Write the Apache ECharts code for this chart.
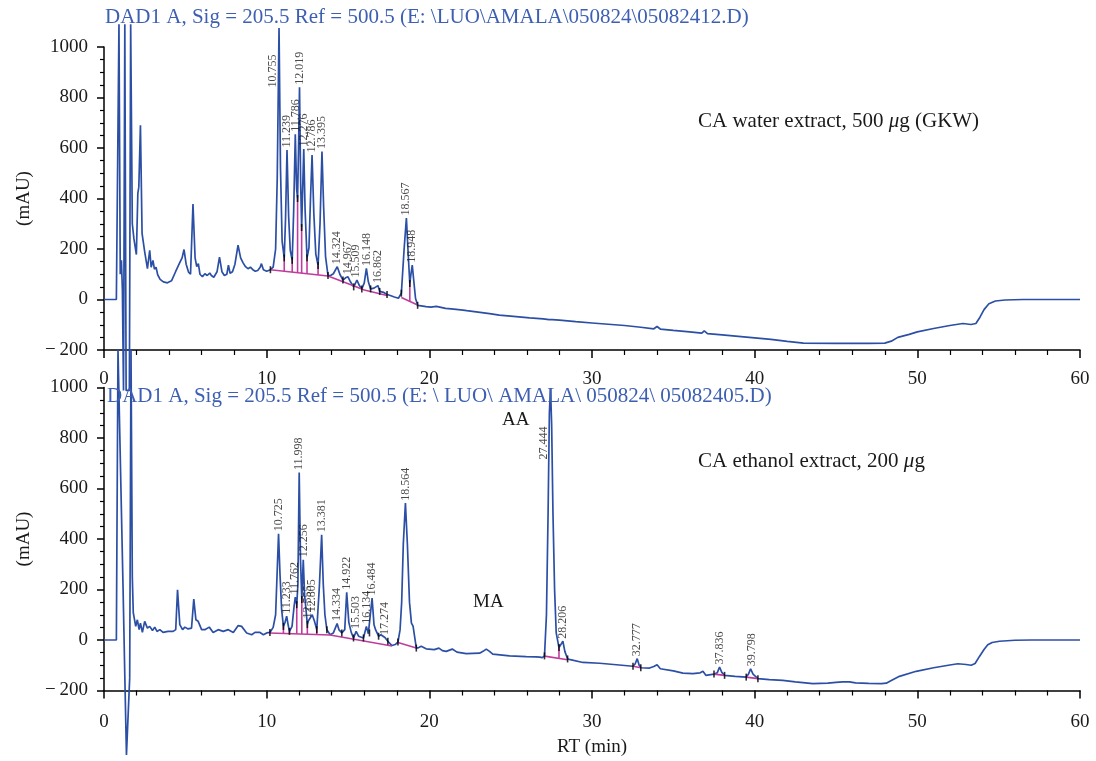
<!DOCTYPE html>
<html><head><meta charset="utf-8">
<script src="https://cdn.jsdelivr.net/npm/echarts@6/dist/echarts.min.js"></script>
<style>html,body{margin:0;padding:0;background:#fff}#c{width:1096px;height:761px}</style>
</head><body><div id="c"></div>
<script>
// ---------- DATA ----------
const waterTrace = [
[0,0],[0.76,0],[0.92,1090],[1.00,100],[1.07,155],[1.13,40],[1.20,-360],[1.28,1090],[1.36,-360],[1.56,-360],[1.64,1090],[1.74,300],[1.84,240],[1.99,178],[2.08,420],[2.14,445],[2.24,690],[2.34,262],[2.50,190],[2.67,122],[2.81,195],[2.90,128],[3.01,155],[3.10,120],[3.20,128],[3.30,98],[3.45,80],[3.65,70],[3.90,66],[4.15,74],[4.40,110],[4.65,145],[4.80,165],[4.92,198],[5.05,140],[5.20,108],[5.32,100],[5.47,378],[5.60,165],[5.70,130],[5.80,142],[5.90,100],[6.05,90],[6.20,102],[6.35,95],[6.50,105],[6.60,95],[6.75,88],[6.95,110],[7.10,168],[7.25,110],[7.40,95],[7.55,100],[7.65,136],[7.75,104],[7.90,110],[8.05,140],[8.24,215],[8.40,165],[8.55,145],[8.70,130],[8.85,122],[9.00,128],[9.15,118],[9.30,112],[9.45,115],[9.60,128],[9.68,142],[9.80,118],[10.00,112],[10.23,118],[10.40,128],[10.55,200],[10.65,480],[10.76,1075],[10.85,520],[10.95,230],[11.08,165],[11.16,320],[11.25,592],[11.35,330],[11.45,195],[11.57,155],[11.66,350],[11.76,654],[11.84,440],[11.90,400],[11.96,600],[12.02,841],[12.09,460],[12.15,285],[12.21,430],[12.28,596],[12.36,360],[12.48,165],[12.60,205],[12.70,410],[12.79,572],[12.90,340],[13.02,180],[13.16,135],[13.28,300],[13.40,586],[13.50,370],[13.62,170],[13.77,95],[13.95,96],[14.10,102],[14.34,130],[14.50,100],[14.69,77],[14.85,86],[15.00,90],[15.15,70],[15.35,50],[15.55,77],[15.70,55],[15.85,42],[16.00,66],[16.13,123],[16.25,70],[16.39,42],[16.60,45],[16.84,55],[16.95,32],[17.20,28],[17.40,20],[17.60,16],[17.85,10],[18.10,5],[18.28,25],[18.45,200],[18.59,323],[18.70,180],[18.80,63],[18.87,100],[18.95,136],[19.05,70],[19.15,5],[19.28,-23],[19.50,-25],[19.80,-28],[20.10,-30],[20.43,-27],[20.55,-32],[21.00,-35],[21.50,-38],[22.07,-42],[22.15,-37],[22.30,-44],[23.00,-50],[23.70,-56],[24.30,-62],[25.00,-66],[26.17,-73],[27.00,-77],[27.36,-80],[27.45,-73],[27.55,-80],[28.00,-82],[29.00,-88],[30.00,-93],[31.00,-98],[32.00,-103],[33.00,-110],[33.80,-116],[34.00,-107],[34.20,-117],[35.00,-122],[36.00,-128],[36.75,-133],[36.90,-124],[37.10,-135],[38.00,-140],[39.00,-146],[40.00,-152],[41.00,-158],[42.00,-166],[43.00,-173],[45.00,-174],[47.00,-174],[48.00,-173],[48.40,-165],[48.80,-150],[49.50,-138],[50.00,-128],[51.00,-115],[52.00,-103],[52.80,-95],[53.30,-99],[53.60,-95],[53.85,-70],[54.10,-40],[54.40,-17],[54.80,-6],[55.40,-2],[56.50,0],[60.00,0]
];
const ethanolTrace = [
[0,0],[0.76,0],[0.86,1150],[1.17,212],[1.28,-144],[1.38,-455],[1.48,-455],[1.58,-150],[1.66,1150],[1.74,250],[1.80,108],[1.95,54],[2.05,80],[2.16,41],[2.24,67],[2.36,30],[2.50,74],[2.67,47],[2.81,54],[2.98,38],[3.12,51],[3.26,34],[3.43,41],[3.63,30],[3.94,34],[4.25,34],[4.41,41],[4.52,199],[4.66,61],[4.83,41],[4.97,51],[5.17,44],[5.38,47],[5.52,162],[5.65,80],[5.79,74],[6.00,41],[6.20,41],[6.47,51],[6.71,30],[7.02,41],[7.33,34],[7.64,41],[7.95,30],[8.25,57],[8.46,54],[8.77,28],[9.08,21],[9.28,30],[9.59,30],[9.80,21],[10.00,28],[10.20,30],[10.40,50],[10.55,100],[10.64,260],[10.73,421],[10.82,260],[10.92,120],[11.03,54],[11.13,70],[11.23,94],[11.32,60],[11.40,34],[11.56,54],[11.68,130],[11.76,170],[11.85,140],[11.92,220],[12.00,663],[12.08,320],[12.16,160],[12.25,318],[12.33,180],[12.40,133],[12.50,61],[12.56,75],[12.66,68],[12.80,100],[12.94,74],[13.08,41],[13.24,212],[13.38,417],[13.48,220],[13.58,100],[13.70,41],[13.90,21],[14.10,28],[14.33,65],[14.45,40],[14.62,28],[14.80,41],[14.92,189],[15.05,70],[15.20,30],[15.34,8],[15.50,34],[15.65,15],[15.75,8],[15.95,8],[16.13,54],[16.25,25],[16.32,28],[16.48,166],[16.60,60],[16.70,40],[16.88,15],[17.02,21],[17.27,10],[17.45,-5],[17.70,-22],[17.90,-18],[18.07,-8],[18.20,40],[18.30,150],[18.40,380],[18.53,542],[18.65,380],[18.78,150],[18.90,67],[19.00,55],[19.20,-32],[19.35,-30],[19.50,-25],[19.80,-35],[20.30,-38],[20.59,-32],[20.80,-42],[21.04,-45],[21.41,-36],[21.70,-48],[22.27,-54],[23.09,-52],[23.30,-45],[23.50,-36],[23.70,-45],[23.90,-56],[24.93,-63],[25.95,-66],[26.55,-67],[26.67,-61],[26.80,-68],[26.94,-70],[27.08,-63],[27.20,100],[27.30,500],[27.38,900],[27.45,998],[27.52,850],[27.60,503],[27.70,200],[27.80,28],[27.97,-30],[28.08,-25],[28.21,-5],[28.33,-45],[28.50,-75],[28.67,-78],[29.44,-89],[30.47,-92],[31.50,-98],[32.52,-104],[32.65,-95],[32.78,-74],[32.90,-100],[33.00,-110],[33.54,-111],[33.80,-105],[34.00,-98],[34.20,-114],[35.00,-122],[35.59,-131],[36.20,-133],[36.65,-130],[36.82,-124],[37.00,-140],[37.50,-135],[37.70,-130],[37.84,-107],[37.98,-128],[38.15,-140],[38.80,-144],[39.48,-147],[39.62,-135],[39.75,-114],[39.90,-135],[40.20,-153],[40.90,-157],[41.73,-160],[42.50,-166],[43.58,-173],[44.50,-171],[45.00,-168],[45.40,-166],[45.83,-166],[46.20,-170],[47.00,-172],[47.80,-173],[48.09,-171],[48.40,-160],[48.90,-144],[49.93,-124],[51.00,-110],[52.00,-99],[52.49,-94],[53.00,-97],[53.31,-100],[53.55,-93],[53.82,-65],[54.10,-38],[54.33,-19],[54.60,-10],[55.05,-5],[56.00,-1],[57.00,0],[60.00,0]
];

const waterPeakRT = [10.755,11.239,11.786,12.019,12.276,12.786,13.395,14.324,14.967,15.509,16.148,16.862,18.567,18.948];
const waterPeakHeight = [1075,592,654,841,596,572,586,130,90,77,123,55,323,136];
const ethanolPeakRT = [10.725,11.233,11.762,11.998,12.256,12.555,12.805,13.381,14.334,14.922,15.503,16.134,16.484,17.274,18.564,27.444,28.206,32.777,37.836,39.798];
const ethanolPeakHeight = [421,94,170,663,318,75,100,417,65,189,34,54,166,10,542,998,-5,-74,-107,-114];

const waterMarkRT = [10.23,11.08,11.57,11.90,12.15,12.48,13.16,13.77,14.69,15.35,15.85,16.39,16.95,17.40,18.28,18.80,19.28];
const waterMarkLevel = [118,165,155,400,285,165,135,95,77,50,42,42,32,20,25,63,-23];
const ethanolMarkRT = [10.20,11.03,11.40,11.85,12.16,12.50,13.08,13.70,14.62,15.34,15.95,16.32,16.88,17.45,18.07,19.20,27.08,27.97,28.50,32.52,33.00,37.50,38.15,39.48,40.20];
const ethanolMarkLevel = [30,54,34,140,160,61,41,41,28,8,8,28,15,-5,-8,-32,-63,-30,-75,-104,-110,-135,-140,-147,-153];

const waterBaselines = [
  [[10.23,118],[13.77,93],[15.10,60],[16.00,38],[17.40,16]],
  [[18.28,8],[19.28,-22]]
];
const ethanolBaselines = [
  [[10.20,28],[13.90,20],[17.70,-24]],
  [[18.07,-10],[19.20,-32]],
  [[27.08,-64],[28.50,-78]],
  [[32.52,-104],[33.00,-110]],
  [[37.50,-135],[38.15,-140]],
  [[39.48,-147],[40.20,-153]]
];
const waterDropRT = [11.08,11.57,11.90,12.15,12.48,13.16,18.80];
const waterDropTop = [165,155,400,285,165,135,63];
const ethanolDropRT = [11.03,11.40,11.85,12.16,12.50,13.08,27.97];
const ethanolDropTop = [54,34,140,160,61,41,-30];

// ---------- STYLE ----------
const BLUE = '#2c4fa6';
const TITLE_BLUE = '#3d5fb2';
const MAG = '#c03c9c';
const FONT = 'Liberation Serif';
const INK = '#1a1a1a';

function baseAt(segs, t){
  for (const s of segs){
    if (t >= s[0][0] && t <= s[s.length-1][0]){
      for (let i=0;i<s.length-1;i++){
        if (t>=s[i][0] && t<=s[i+1][0]){
          const f=(t-s[i][0])/(s[i+1][0]-s[i][0]);
          return s[i][1]+f*(s[i+1][1]-s[i][1]);
        }
      }
    }
  }
  return 0;
}

function xAxisCfg(gi, margin){
  return {
    gridIndex: gi, type:'value', min:0, max:60, interval:10,
    axisLine:{show:true, onZero:false, lineStyle:{color:'#000', width:1.5}},
    axisTick:{show:true, length:8, lineStyle:{color:'#000', width:1.5}},
    minorTick:{show:true, splitNumber:5, length:5, lineStyle:{color:'#000', width:1.2}},
    splitLine:{show:false},
    axisLabel:{color:INK, fontFamily:FONT, fontSize:19, margin: margin},
    name: gi===1 ? 'RT (min)' : '',
    nameLocation:'middle', nameGap: 47,
    nameTextStyle:{color:INK, fontFamily:FONT, fontSize:19}
  };
}
function yAxisCfg(gi){
  return {
    gridIndex: gi, type:'value', min:-200, max:1000, interval:200,
    axisLine:{show:true, onZero:false, lineStyle:{color:'#000', width:1.5}},
    axisTick:{show:true, length:7, lineStyle:{color:'#000', width:1.5}},
    minorTick:{show:true, splitNumber:4, length:4, lineStyle:{color:'#000', width:1.2}},
    splitLine:{show:false},
    axisLabel:{color:INK, fontFamily:FONT, fontSize:19, margin:16,
      formatter: v => v<0 ? '\u2212\u2009'+(-v) : String(v)},
    name:'(mAU)', nameLocation:'middle', nameRotate:90, nameGap:70,
    nameTextStyle:{color:INK, fontFamily:FONT, fontSize:19}
  };
}

function panelSeries(gi, trace, segs, dropRT, dropTop, markRT, markLevel, peakRT, peakH, tallDrop){
  const out = [];
  out.push({type:'line', xAxisIndex:gi, yAxisIndex:gi, data:trace, showSymbol:false, symbol:'none',
    clip:false, lineStyle:{color:BLUE, width:1.7}, z:2, silent:true, animation:false});
  segs.forEach(s => out.push({type:'line', xAxisIndex:gi, yAxisIndex:gi, data:s, showSymbol:false, symbol:'none',
    lineStyle:{color:MAG, width:1.6}, z:3, silent:true, animation:false}));
  out.push({type:'custom', xAxisIndex:gi, yAxisIndex:gi, z:3, silent:true, animation:false,
    data: dropRT.map((t,i)=>[t, baseAt(segs,t), dropTop[i]]),
    encode:{x:0, y:[1,2]},
    renderItem:(params, api)=>{
      const p1 = api.coord([api.value(0), api.value(1)]);
      const p2 = api.coord([api.value(0), api.value(2)]);
      return {type:'line', shape:{x1:p1[0],y1:p1[1],x2:p2[0],y2:p2[1]}, style:{stroke:MAG, lineWidth:1.6}};
    }});
  out.push({type:'scatter', xAxisIndex:gi, yAxisIndex:gi, symbol:'rect', symbolSize:[1.6,7],
    itemStyle:{color:'#000'}, z:4, silent:true, animation:false,
    data: markRT.map((t,i)=>[t, markLevel[i]])});
  out.push({type:'scatter', xAxisIndex:gi, yAxisIndex:gi, symbolSize:1, itemStyle:{color:'rgba(0,0,0,0)'},
    z:5, silent:true, animation:false, clip:false,
    labelLayout:{hideOverlap:false},
    data: peakRT.map((t,i)=>{
      const tall = peakH[i] > 950;
      return {value:[t, peakH[i]], name:t.toFixed(3),
        label:{position: tall ? [-6, tallDrop] : [0.5, -2]}};
    }),
    label:{show:true, formatter:p=>p.name, rotate:90, align:'left', verticalAlign:'middle',
      fontFamily:FONT, fontSize:12, color:INK}
  });
  return out;
}

const chart = echarts.init(document.getElementById('c'), null, {renderer:'canvas'});
const TSIZE = 21;
chart.setOption({
  animation:false,
  backgroundColor:'#fff',
  title:[
    {text:'DAD1 A, Sig = 205.5 Ref = 500.5 (E: \\LUO\\AMALA\\050824\\05082412.D)', left:105, top:7, padding:0,
      textStyle:{fontFamily:FONT, fontWeight:'normal', fontSize:TSIZE, color:TITLE_BLUE}},
    {text:'DAD1 A, Sig = 205.5 Ref = 500.5 (E: \\ LUO\\ AMALA\\ 050824\\ 05082405.D)', left:107, top:386, padding:0,
      textStyle:{fontFamily:FONT, fontWeight:'normal', fontSize:TSIZE, color:TITLE_BLUE}},
    {text:'CA water extract, 500 {i|\u03bc}g (GKW)', left:698, top:111, padding:0,
      textStyle:{fontFamily:FONT, fontWeight:'normal', fontSize:TSIZE, color:INK,
        rich:{i:{fontFamily:FONT, fontStyle:'italic', fontSize:TSIZE, color:INK}}}},
    {text:'CA ethanol extract, 200 {i|\u03bc}g', left:698, top:451, padding:0,
      textStyle:{fontFamily:FONT, fontWeight:'normal', fontSize:TSIZE, color:INK,
        rich:{i:{fontFamily:FONT, fontStyle:'italic', fontSize:TSIZE, color:INK}}}},
    {text:'AA', left:502, top:411, padding:0, textStyle:{fontFamily:FONT, fontWeight:'normal', fontSize:19, color:INK}},
    {text:'MA', left:473, top:593, padding:0, textStyle:{fontFamily:FONT, fontWeight:'normal', fontSize:19, color:INK}}
  ],
  grid:[
    {left:104, width:976, top:47, height:303},
    {left:104, width:976, top:387.5, height:303}
  ],
  xAxis:[xAxisCfg(0, 20), xAxisCfg(1, 22)],
  yAxis:[yAxisCfg(0), yAxisCfg(1)],
  series:[].concat(
    panelSeries(0, waterTrace, waterBaselines, waterDropRT, waterDropTop, waterMarkRT, waterMarkLevel, waterPeakRT, waterPeakHeight, 60),
    panelSeries(1, ethanolTrace, ethanolBaselines, ethanolDropRT, ethanolDropTop, ethanolMarkRT, ethanolMarkLevel, ethanolPeakRT, ethanolPeakHeight, 72)
  )
});
</script>
</body></html>
